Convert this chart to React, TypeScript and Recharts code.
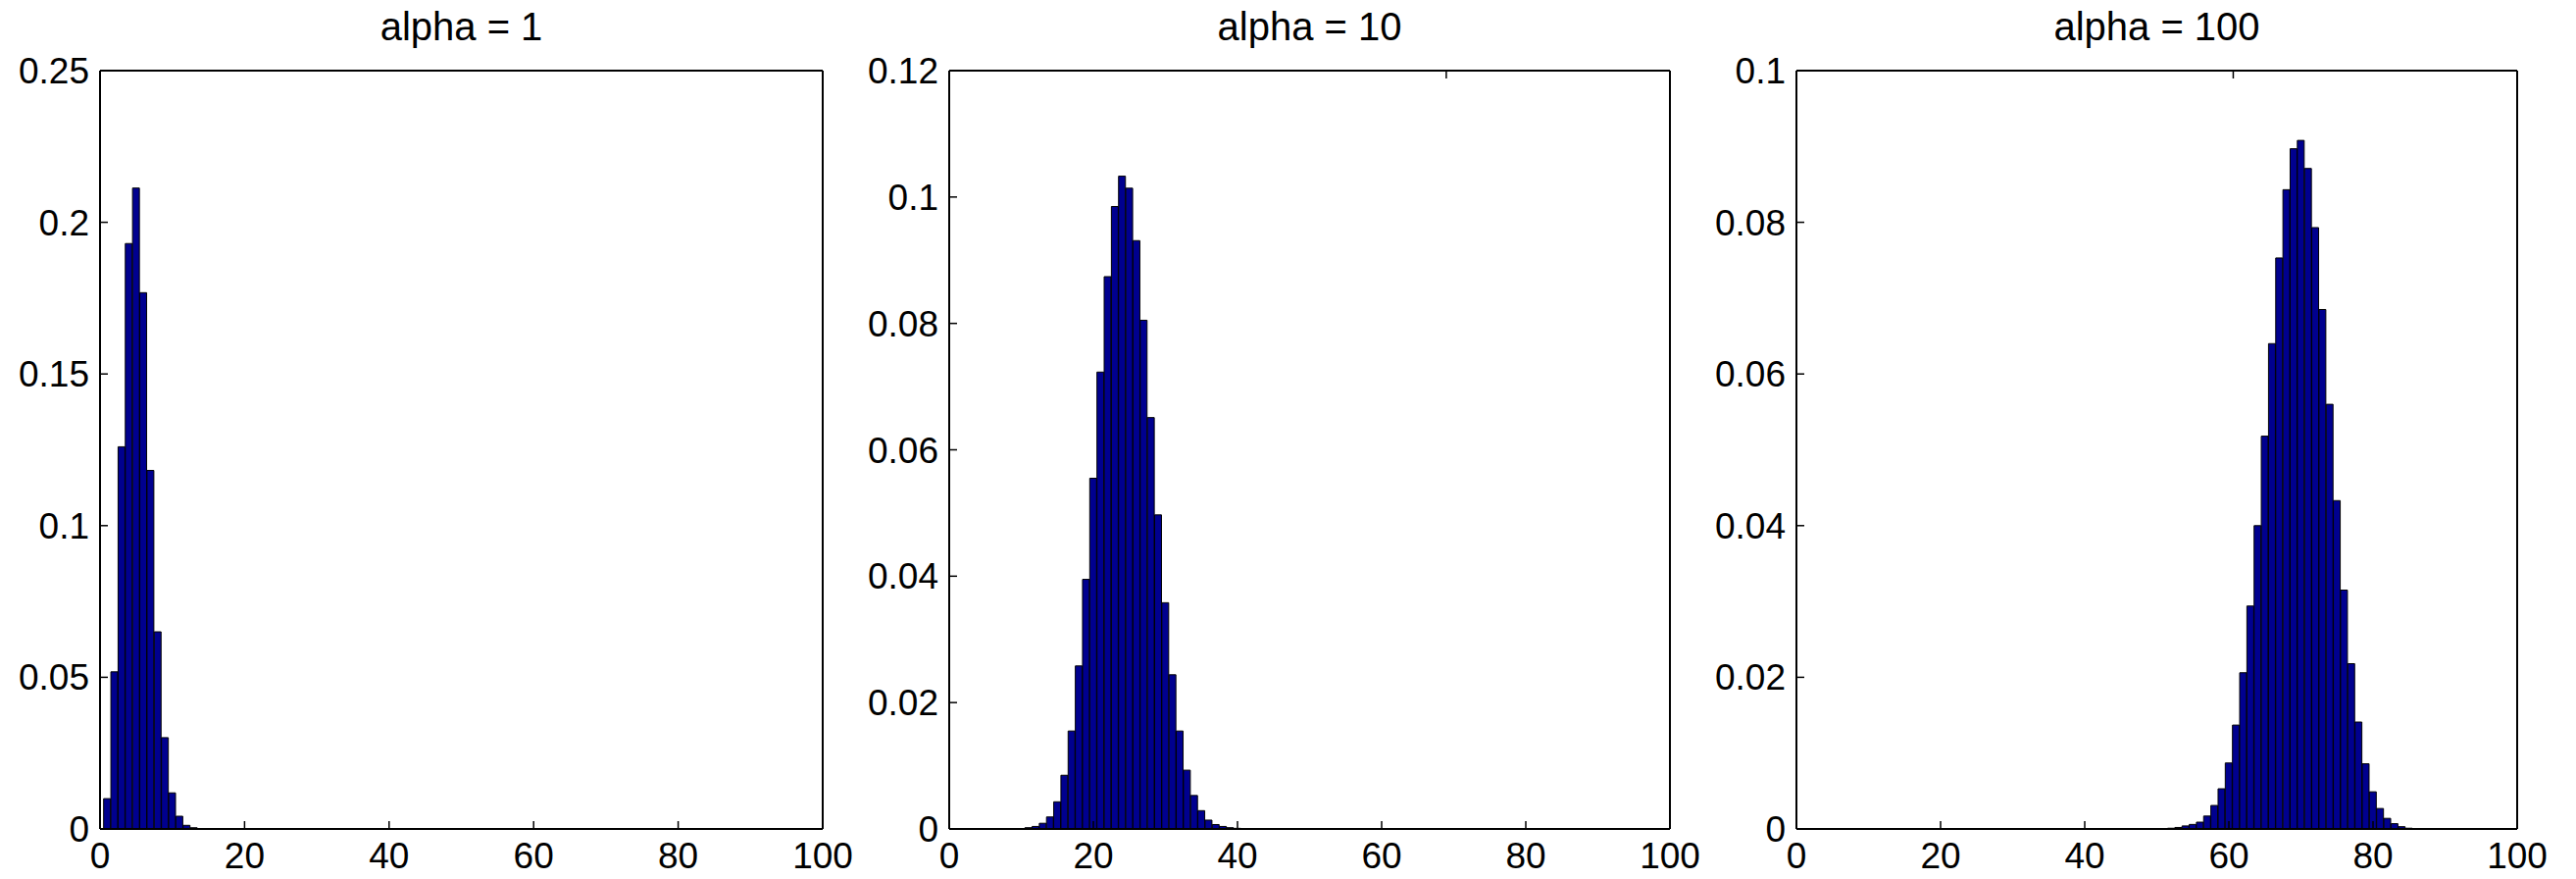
import React from "react";
import { Bar, BarChart, XAxis, YAxis } from "recharts";

// histogram bins (x) and relative frequencies
const alpha1Bins = [1, 2, 3, 4, 5, 6, 7, 8, 9, 10, 11, 12, 13, 14];
const alpha1Values = [
  0.01, 0.0518, 0.126, 0.193, 0.2113, 0.1768, 0.1182, 0.065, 0.0301, 0.0119, 0.0042, 0.0012, 0.0004,
  0.0001,
];

const alpha10Bins = [
  11, 12, 13, 14, 15, 16, 17, 18, 19, 20, 21, 22, 23, 24, 25, 26, 27, 28, 29, 30, 31, 32, 33, 34, 35,
  36, 37, 38, 39, 40,
];
const alpha10Values = [
  0.0002, 0.0004, 0.0009, 0.0019, 0.0043, 0.0085, 0.0155, 0.0258, 0.0395, 0.0555, 0.0723, 0.0874,
  0.0985, 0.1033, 0.1014, 0.0931, 0.0805, 0.0651, 0.0497, 0.0358, 0.0244, 0.0155, 0.0093, 0.0053,
  0.0029, 0.0014, 0.0007, 0.0004, 0.0002, 0.0001,
];

const alpha100Bins = [
  52, 53, 54, 55, 56, 57, 58, 59, 60, 61, 62, 63, 64, 65, 66, 67, 68, 69, 70, 71, 72, 73, 74, 75, 76,
  77, 78, 79, 80, 81, 82, 83, 84, 85,
];
const alpha100Values = [
  0.0001, 0.0002, 0.0004, 0.0006, 0.0009, 0.0017, 0.0031, 0.0053, 0.0087, 0.0137, 0.0206, 0.0294,
  0.04, 0.0518, 0.064, 0.0753, 0.0843, 0.0897, 0.0908, 0.0871, 0.0793, 0.0685, 0.056, 0.0433, 0.0315,
  0.0218, 0.0141, 0.0086, 0.0049, 0.0027, 0.0014, 0.0007, 0.0003, 0.0001,
];

const xTicks = [0, 20, 40, 60, 80, 100];
const yTicks1 = [0, 0.05, 0.1, 0.15, 0.2, 0.25];
const yTicks10 = [0, 0.02, 0.04, 0.06, 0.08, 0.1, 0.12];
const yTicks100 = [0, 0.02, 0.04, 0.06, 0.08, 0.1];

const titles = ["alpha = 1", "alpha = 10", "alpha = 100"];

const FONT = '"Liberation Sans", Arial, Helvetica, sans-serif';
const TICK = 8;
const TICK_FONT = 37;
const TITLE_FONT = 40;
const TOP = 72;
const BOTTOM = 51;
const H = 896;

const toRows = (bins: number[], vals: number[]) => bins.map((b, i) => ({ x: b, p: vals[i] }));

const BottomTick = (props: any) => {
  const { x, y, payload } = props;
  return (
    <g>
      <line x1={x} y1={y} x2={x} y2={y - TICK} stroke="#000" strokeWidth={1.5} />
      <text x={x} y={y + 40} textAnchor="middle" fontSize={TICK_FONT} fontFamily={FONT} fill="#000">
        {payload.value}
      </text>
    </g>
  );
};

const TopTick = (props: any) => {
  const { x, y } = props;
  return <line x1={x} y1={y} x2={x} y2={y + TICK} stroke="#000" strokeWidth={1.5} />;
};

const LeftTick = (props: any) => {
  const { x, y, payload } = props;
  return (
    <g>
      <line x1={x} y1={y} x2={x + TICK} y2={y} stroke="#000" strokeWidth={1.5} />
      <text x={x - 11} y={y + 13} textAnchor="end" fontSize={TICK_FONT} fontFamily={FONT} fill="#000">
        {String(payload.value)}
      </text>
    </g>
  );
};

const RightTick = (props: any) => {
  const { x, y } = props;
  return <line x1={x} y1={y} x2={x - TICK} y2={y} stroke="#000" strokeWidth={1.5} />;
};

interface PanelProps {
  title: string;
  rows: { x: number; p: number }[];
  yTicks: number[];
  left: number;
  width: number;
  axisLeft: number;
  axisRight: number;
}

function Panel({ title, rows, yTicks, left, width, axisLeft, axisRight }: PanelProps) {
  const yMax = yTicks[yTicks.length - 1];
  const plotW = width - axisLeft - axisRight;
  const axisLine = { stroke: "#000", strokeWidth: 2 };
  return (
    <div style={{ position: "absolute", left, top: 0, width, height: H }}>
      <BarChart
        width={width}
        height={H}
        data={rows}
        margin={{ top: 0, right: 0, bottom: 0, left: 0 }}
        barCategoryGap={0}
        barGap={0}
      >
        <XAxis
          xAxisId="bottom"
          dataKey="x"
          type="number"
          domain={[0, 100]}
          ticks={xTicks}
          height={BOTTOM}
          tickSize={0}
          tickMargin={0}
          tickLine={false}
          axisLine={axisLine}
          tick={BottomTick}
          interval={0}
        />
        <XAxis
          xAxisId="top"
          orientation="top"
          type="number"
          domain={[0, 100]}
          ticks={xTicks}
          height={TOP}
          tickSize={0}
          tickMargin={0}
          tickLine={false}
          axisLine={axisLine}
          tick={TopTick}
          interval={0}
        />
        <YAxis
          yAxisId="left"
          type="number"
          domain={[0, yMax]}
          ticks={yTicks}
          width={axisLeft}
          tickSize={0}
          tickMargin={0}
          tickLine={false}
          axisLine={axisLine}
          tick={LeftTick}
          interval={0}
        />
        <YAxis
          yAxisId="right"
          orientation="right"
          type="number"
          domain={[0, yMax]}
          ticks={yTicks}
          width={axisRight}
          tickSize={0}
          tickMargin={0}
          tickLine={false}
          axisLine={axisLine}
          tick={RightTick}
          interval={0}
        />
        <Bar
          xAxisId="bottom"
          yAxisId="left"
          dataKey="p"
          fill="#00008F"
          stroke="#000"
          strokeWidth={1}
          isAnimationActive={false}
        />
      </BarChart>
      <svg
        width={width}
        height={TOP}
        style={{ position: "absolute", left: 0, top: 0, pointerEvents: "none" }}
      >
        <text
          x={axisLeft + plotW / 2}
          y={41}
          textAnchor="middle"
          fontSize={TITLE_FONT}
          fontFamily={FONT}
          fill="#000"
        >
          {title}
        </text>
      </svg>
    </div>
  );
}

export default function App() {
  return (
    <div
      style={{ position: "absolute", left: 0, top: 0, width: 2627, height: H, background: "#fff" }}
    >
      <Panel
        title={titles[0]}
        rows={toRows(alpha1Bins, alpha1Values)}
        yTicks={yTicks1}
        left={0}
        width={880}
        axisLeft={102}
        axisRight={41}
      />
      <Panel
        title={titles[1]}
        rows={toRows(alpha10Bins, alpha10Values)}
        yTicks={yTicks10}
        left={880}
        width={860}
        axisLeft={88}
        axisRight={37}
      />
      <Panel
        title={titles[2]}
        rows={toRows(alpha100Bins, alpha100Values)}
        yTicks={yTicks100}
        left={1740}
        width={887}
        axisLeft={92}
        axisRight={60}
      />
    </div>
  );
}
